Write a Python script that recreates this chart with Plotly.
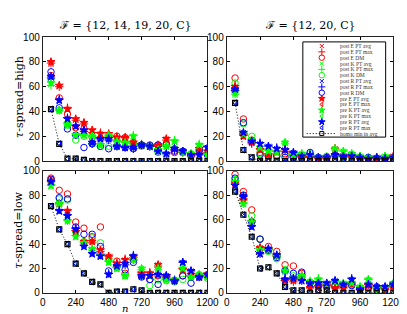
import plotly.graph_objects as go

# ---------------- data ----------------
n_values = [60, 120, 180, 240, 300, 360, 420, 480, 540, 600,
            660, 720, 780, 840, 900, 960, 1020, 1080, 1140, 1200]
x_ticks = [0, 240, 480, 720, 960, 1200]
y_ticks = [0, 20, 40, 60, 80, 100]
col_titles = ["ℱ = {12, 14, 19, 20, C}", "ℱ = {12, 20, C}"]
row_titles = ["<i>τ</i>-spread=high", "<i>τ</i>-spread=low"]
x_title = "<i>n</i>"
series_names = ["post E PT avg", "post E PT max", "post E DM",
                "post K PT avg", "post K PT max", "post K DM",
                "post R PT avg", "post R PT max", "post R DM",
                "pre E PT avg", "pre E PT max",
                "pre K PT avg", "pre K PT max",
                "pre R PT avg", "pre R PT max",
                "homo min in avg"]

# panel: tau-spread=high, F={12,14,19,20,C}
hiA_post_E_PT_avg = [78, 60, 42, 33, 30, 24, 22, 21, 19, 19, 15, 13, 12, 12, 18, 10, 8, 5, 10, 8]
hiA_post_E_PT_max = [79, 60, 43, 33, 30, 23, 23, 21, 20, 19, 14, 13, 12, 12, 17, 9, 7, 4, 11, 7]
hiA_post_E_DM     = [69, 51, 38, 27, 26, 19, 18, 18, 20, 19, 15, 13, 12, 13, 13, 7, 7, 4, 8, 7]
hiA_post_K_PT_avg = [62, 40, 30, 20, 21, 20, 13, 21, 16, 14, 20, 13, 12, 10, 12, 16, 7, 6, 13, 5]
hiA_post_K_PT_max = [61, 41, 31, 21, 21, 20, 14, 20, 16, 15, 21, 14, 12, 10, 12, 17, 7, 6, 14, 6]
hiA_post_K_DM     = [66, 41, 29, 17, 20, 14, 12, 12, 16, 15, 14, 12, 12, 7, 5, 10, 7, 6, 10, 7]
hiA_post_R_PT_avg = [68, 49, 34, 28, 24, 15, 18, 18, 12, 11, 11, 13, 12, 8, 6, 10, 8, 5, 5, 11]
hiA_post_R_PT_max = [67, 50, 35, 29, 24, 14, 18, 17, 12, 11, 10, 13, 12, 8, 6, 9, 8, 5, 5, 12]
hiA_post_R_DM     = [72, 43, 26, 21, 11, 14, 12, 10, 12, 11, 10, 13, 13, 13, 14, 8, 8, 5, 9, 5]
hiA_pre_E_PT_avg  = [80, 61, 42, 34, 31, 25, 22, 22, 19, 19, 15, 13, 12, 13, 18, 10, 8, 5, 10, 8]
hiA_pre_E_PT_max  = [42, 14, 2, 2, 1, 0, 0, 0, 0, 0, 0, 0, 0, 0, 0, 0, 0, 0, 0, 0]
hiA_pre_K_PT_avg  = [63, 41, 29, 21, 21, 20, 13, 21, 16, 15, 20, 13, 12, 9, 12, 16, 7, 6, 13, 5]
hiA_pre_K_PT_max  = [42, 14, 2, 2, 1, 0, 0, 0, 0, 0, 0, 0, 0, 0, 0, 0, 0, 0, 0, 0]
hiA_pre_R_PT_avg  = [68, 49, 34, 28, 25, 15, 18, 18, 12, 11, 11, 13, 12, 8, 6, 10, 8, 5, 5, 11]
hiA_pre_R_PT_max  = [42, 14, 2, 2, 1, 0, 0, 0, 0, 0, 0, 0, 0, 0, 0, 0, 0, 0, 0, 0]
hiA_homo_min_avg  = [42, 14, 2, 2, 1, 0, 0, 0, 0, 0, 0, 0, 0, 0, 0, 0, 0, 0, 0, 0]

# panel: tau-spread=high, F={12,20,C}
hiB_post_E_PT_avg = [60, 20, 15, 9, 4, 7, 9, 4, 3, 3, 2, 2, 10, 4, 3, 2, 2, 2, 2, 4]
hiB_post_E_PT_max = [61, 21, 14, 10, 5, 8, 8, 4, 3, 3, 2, 2, 10, 4, 3, 2, 2, 2, 2, 4]
hiB_post_E_DM     = [67, 34, 17, 7, 4, 5, 6, 3, 3, 4, 2, 3, 5, 3, 4, 2, 2, 2, 2, 3]
hiB_post_K_PT_avg = [53, 21, 17, 10, 8, 7, 15, 5, 6, 4, 3, 3, 10, 8, 6, 4, 3, 3, 4, 3]
hiB_post_K_PT_max = [54, 22, 16, 10, 9, 8, 14, 5, 6, 4, 3, 3, 9, 8, 6, 4, 3, 3, 4, 3]
hiB_post_K_DM     = [63, 30, 20, 6, 5, 4, 5, 4, 5, 6, 3, 4, 4, 3, 4, 3, 3, 2, 3, 2]
hiB_post_R_PT_avg = [58, 23, 16, 14, 12, 10, 9, 7, 4, 5, 3, 3, 5, 4, 4, 3, 2, 3, 2, 3]
hiB_post_R_PT_max = [57, 22, 15, 15, 12, 11, 10, 7, 4, 5, 3, 3, 6, 4, 4, 3, 2, 3, 2, 3]
hiB_post_R_DM     = [58, 31, 16, 5, 4, 4, 3, 3, 3, 7, 3, 3, 5, 4, 5, 3, 3, 2, 2, 2]
hiB_pre_E_PT_avg  = [60, 20, 15, 9, 5, 7, 9, 4, 3, 3, 2, 2, 10, 4, 3, 2, 2, 2, 2, 4]
hiB_pre_E_PT_max  = [47, 9, 3, 0, 0, 0, 0, 0, 0, 0, 0, 0, 0, 0, 0, 0, 0, 0, 0, 0]
hiB_pre_K_PT_avg  = [55, 22, 17, 11, 8, 7, 15, 5, 6, 4, 3, 3, 10, 8, 6, 4, 3, 3, 4, 3]
hiB_pre_K_PT_max  = [47, 9, 3, 0, 0, 0, 0, 0, 0, 0, 0, 0, 0, 0, 0, 0, 0, 0, 0, 0]
hiB_pre_R_PT_avg  = [58, 23, 16, 14, 12, 10, 9, 7, 4, 5, 3, 3, 5, 4, 4, 3, 2, 3, 2, 3]
hiB_pre_R_PT_max  = [47, 9, 3, 0, 0, 0, 0, 0, 0, 0, 0, 0, 0, 0, 0, 0, 0, 0, 0, 0]
hiB_homo_min_avg  = [47, 9, 3, 0, 0, 0, 0, 0, 0, 0, 0, 0, 0, 0, 0, 0, 0, 0, 0, 0]

# panel: tau-spread=low, F={12,14,19,20,C}
loA_post_E_PT_avg = [92, 73, 67, 50, 42, 42, 35, 30, 24, 27, 28, 16, 16, 23, 14, 10, 19, 15, 13, 15]
loA_post_E_PT_max = [92, 73, 68, 51, 41, 41, 34, 30, 25, 28, 27, 17, 17, 22, 13, 10, 20, 16, 14, 16]
loA_post_E_DM     = [94, 84, 81, 58, 53, 46, 54, 28, 26, 16, 29, 16, 11, 14, 13, 10, 14, 14, 14, 15]
loA_post_K_PT_avg = [87, 73, 60, 46, 41, 36, 31, 25, 20, 14, 28, 20, 14, 20, 11, 11, 20, 13, 15, 13]
loA_post_K_PT_max = [88, 72, 59, 47, 42, 35, 31, 26, 21, 15, 27, 19, 15, 19, 11, 10, 19, 13, 15, 13]
loA_post_K_DM     = [92, 77, 76, 50, 42, 45, 41, 28, 21, 14, 27, 14, 6, 11, 10, 9, 11, 13, 15, 12]
loA_post_R_PT_avg = [91, 67, 64, 52, 39, 33, 30, 15, 22, 24, 30, 14, 14, 15, 14, 10, 25, 18, 13, 15]
loA_post_R_PT_max = [91, 68, 64, 53, 39, 33, 31, 16, 21, 23, 31, 14, 15, 15, 14, 10, 25, 18, 13, 14]
loA_post_R_DM     = [93, 78, 77, 54, 48, 48, 38, 18, 22, 19, 25, 13, 11, 7, 12, 10, 14, 8, 13, 14]
loA_pre_E_PT_avg  = [92, 73, 67, 50, 42, 42, 35, 30, 24, 27, 28, 16, 16, 23, 14, 10, 19, 15, 13, 15]
loA_pre_E_PT_max  = [71, 52, 40, 24, 16, 9, 7, 0, 1, 1, 3, 2, 0, 0, 0, 0, 0, 0, 0, 0]
loA_pre_K_PT_avg  = [88, 73, 59, 46, 41, 36, 31, 25, 20, 14, 28, 20, 14, 20, 11, 11, 20, 13, 15, 13]
loA_pre_K_PT_max  = [71, 52, 40, 24, 16, 9, 7, 0, 1, 1, 3, 2, 0, 0, 0, 0, 0, 0, 0, 0]
loA_pre_R_PT_avg  = [91, 67, 63, 52, 38, 32, 30, 15, 22, 24, 30, 14, 14, 15, 14, 10, 25, 18, 13, 15]
loA_pre_R_PT_max  = [71, 52, 40, 24, 16, 9, 7, 0, 1, 1, 3, 2, 0, 0, 0, 0, 0, 0, 0, 0]
loA_homo_min_avg  = [71, 52, 40, 24, 16, 9, 7, 0, 1, 1, 3, 2, 0, 0, 0, 0, 0, 0, 0, 0]

# panel: tau-spread=low, F={12,20,C}
loB_post_E_PT_avg = [90, 76, 58, 37, 35, 30, 10, 10, 14, 4, 5, 6, 4, 4, 7, 3, 6, 4, 3, 5]
loB_post_E_PT_max = [90, 76, 59, 37, 36, 30, 10, 9, 13, 4, 5, 6, 4, 4, 7, 3, 7, 4, 3, 5]
loB_post_E_DM     = [97, 83, 68, 44, 38, 34, 23, 22, 16, 8, 6, 5, 5, 6, 7, 3, 5, 4, 3, 5]
loB_post_K_PT_avg = [91, 73, 58, 35, 35, 30, 18, 12, 14, 9, 11, 7, 9, 8, 8, 5, 11, 4, 4, 8]
loB_post_K_PT_max = [92, 73, 58, 35, 35, 30, 17, 12, 14, 10, 12, 7, 9, 8, 8, 5, 11, 4, 4, 8]
loB_post_K_DM     = [93, 80, 63, 44, 34, 28, 19, 14, 12, 9, 7, 6, 7, 6, 7, 4, 5, 3, 4, 6]
loB_post_R_PT_avg = [88, 79, 54, 32, 36, 31, 11, 12, 10, 8, 8, 8, 10, 7, 11, 3, 7, 5, 5, 7]
loB_post_R_PT_max = [89, 79, 55, 32, 36, 31, 12, 12, 10, 8, 9, 8, 10, 7, 12, 3, 7, 5, 5, 7]
loB_post_R_DM     = [94, 80, 58, 44, 35, 29, 18, 16, 17, 8, 6, 7, 6, 6, 6, 3, 4, 5, 4, 7]
loB_pre_E_PT_avg  = [90, 76, 58, 37, 35, 30, 10, 10, 14, 4, 5, 6, 4, 4, 7, 3, 6, 4, 3, 5]
loB_pre_E_PT_max  = [83, 64, 46, 20, 21, 16, 5, 2, 2, 0, 2, 2, 0, 0, 0, 0, 0, 0, 0, 0]
loB_pre_K_PT_avg  = [91, 73, 58, 35, 35, 30, 18, 12, 14, 9, 11, 7, 9, 8, 8, 5, 11, 4, 4, 8]
loB_pre_K_PT_max  = [83, 64, 46, 20, 21, 16, 5, 2, 2, 0, 2, 2, 0, 0, 0, 0, 0, 0, 0, 0]
loB_pre_R_PT_avg  = [88, 79, 54, 32, 36, 31, 11, 12, 10, 8, 8, 8, 10, 7, 11, 3, 7, 5, 5, 7]
loB_pre_R_PT_max  = [83, 64, 46, 20, 21, 16, 5, 2, 2, 0, 2, 2, 0, 0, 0, 0, 0, 0, 0, 0]
loB_homo_min_avg  = [83, 64, 46, 20, 21, 16, 5, 2, 2, 0, 2, 2, 0, 0, 0, 0, 0, 0, 0, 0]

panel_data = {
    "hiA": [hiA_post_E_PT_avg, hiA_post_E_PT_max, hiA_post_E_DM,
            hiA_post_K_PT_avg, hiA_post_K_PT_max, hiA_post_K_DM,
            hiA_post_R_PT_avg, hiA_post_R_PT_max, hiA_post_R_DM,
            hiA_pre_E_PT_avg, hiA_pre_E_PT_max, hiA_pre_K_PT_avg, hiA_pre_K_PT_max,
            hiA_pre_R_PT_avg, hiA_pre_R_PT_max, hiA_homo_min_avg],
    "hiB": [hiB_post_E_PT_avg, hiB_post_E_PT_max, hiB_post_E_DM,
            hiB_post_K_PT_avg, hiB_post_K_PT_max, hiB_post_K_DM,
            hiB_post_R_PT_avg, hiB_post_R_PT_max, hiB_post_R_DM,
            hiB_pre_E_PT_avg, hiB_pre_E_PT_max, hiB_pre_K_PT_avg, hiB_pre_K_PT_max,
            hiB_pre_R_PT_avg, hiB_pre_R_PT_max, hiB_homo_min_avg],
    "loA": [loA_post_E_PT_avg, loA_post_E_PT_max, loA_post_E_DM,
            loA_post_K_PT_avg, loA_post_K_PT_max, loA_post_K_DM,
            loA_post_R_PT_avg, loA_post_R_PT_max, loA_post_R_DM,
            loA_pre_E_PT_avg, loA_pre_E_PT_max, loA_pre_K_PT_avg, loA_pre_K_PT_max,
            loA_pre_R_PT_avg, loA_pre_R_PT_max, loA_homo_min_avg],
    "loB": [loB_post_E_PT_avg, loB_post_E_PT_max, loB_post_E_DM,
            loB_post_K_PT_avg, loB_post_K_PT_max, loB_post_K_DM,
            loB_post_R_PT_avg, loB_post_R_PT_max, loB_post_R_DM,
            loB_pre_E_PT_avg, loB_pre_E_PT_max, loB_pre_K_PT_avg, loB_pre_K_PT_max,
            loB_pre_R_PT_avg, loB_pre_R_PT_max, loB_homo_min_avg],
}

# ---------------- styles ----------------
RED, GREEN, BLUE, BLACK = "#ff0000", "#00ff00", "#0000ff", "#000000"
styles = [
    (RED, "x-thin-open", 5), (RED, "cross-thin-open", 6), (RED, "circle-open", 6.5),
    (GREEN, "x-thin-open", 5), (GREEN, "cross-thin-open", 6), (GREEN, "circle-open", 6.5),
    (BLUE, "x-thin-open", 5), (BLUE, "cross-thin-open", 6), (BLUE, "circle-open", 6.5),
    (RED, "star", 6), (RED, "triangle-left-open", 5),
    (GREEN, "star", 6), (GREEN, "triangle-left-open", 5),
    (BLUE, "star", 6), (BLUE, "triangle-left-open", 5),
    (BLACK, "square-open", 5),
]
DOTTED = "1px,2px"

W, H = 407, 314
def xd(a, b):
    return [a / W, b / W]
def yd(top, bottom):
    return [(H - bottom) / H, (H - top) / H]

panels = [  # key, axis suffix, x-domain px, y-domain px, show x labels
    ("hiA", "", (33, 204), (24, 153), False),
    ("hiB", "2", (224, 397), (24, 153), False),
    ("loA", "3", (33, 204), (163, 290), True),
    ("loB", "4", (224, 397), (163, 290), True),
]

fig = go.Figure()
TICKFONT = dict(family="Liberation Sans, Arial, sans-serif", size=10, color="black")
SERIF = "DejaVu Serif, Liberation Serif, serif"

for key, sfx, xpx, ypx, showx in panels:
    for vals, (color, sym, size), name in zip(panel_data[key], styles, series_names):
        is_homo = name == "homo min in avg"
        fig.add_trace(go.Scatter(
            x=n_values, y=vals, name=name, showlegend=False,
            mode="lines+markers" if is_homo else "markers",
            line=dict(color=BLACK, width=1, dash=DOTTED) if is_homo else None,
            marker=dict(symbol=sym, size=size, color=color,
                        line=dict(color=color, width=1.2 if is_homo else 1)),
            xaxis="x" + sfx, yaxis="y" + sfx,
        ))
    fig.layout["xaxis" + sfx] = dict(
        domain=xd(*xpx), range=[0, 1200], tickvals=x_ticks, showticklabels=showx,
        ticks="inside", ticklen=3, tickwidth=0.8, tickcolor="black",
        showline=True, linecolor="#222", linewidth=1, mirror="ticks",
        showgrid=False, zeroline=False, tickfont=TICKFONT, anchor="y" + sfx,
    )
    fig.layout["yaxis" + sfx] = dict(
        domain=yd(*ypx), range=[0, 100], tickvals=y_ticks,
        ticks="inside", ticklen=3, tickwidth=0.8, tickcolor="black",
        showline=True, linecolor="#222", linewidth=1, mirror="ticks",
        showgrid=False, zeroline=False, tickfont=TICKFONT, anchor="x" + sfx,
    )

# ---------------- legend (drawn on its own hidden axis) ----------------
LEG_X = (303, 389)
LEG_Y = (29, 128)
for i, (name, (color, sym, size)) in enumerate(zip(series_names, styles)):
    if name == "homo min in avg":
        fig.add_trace(go.Scatter(x=[0.047, 0.395], y=[i, i], mode="lines",
                                 line=dict(color=BLACK, width=1, dash=DOTTED),
                                 showlegend=False, xaxis="x5", yaxis="y5", hoverinfo="skip"))
    fig.add_trace(go.Scatter(x=[0.229], y=[i], mode="markers", showlegend=False,
                             marker=dict(symbol=sym, size=max(size - 1, 4), color=color,
                                         line=dict(color=color, width=1)),
                             xaxis="x5", yaxis="y5", hoverinfo="skip"))
    fig.add_annotation(x=0.43, y=i, xref="x5", yref="y5", text=name, showarrow=False,
                       xanchor="left", yanchor="middle",
                       font=dict(family="Liberation Serif, serif", size=5.5, color="#333"))

fig.layout["xaxis5"] = dict(domain=xd(*LEG_X), range=[0, 1], visible=False, anchor="y5")
fig.layout["yaxis5"] = dict(domain=yd(*LEG_Y), range=[15.61, -0.71], visible=False, anchor="x5")
fig.add_shape(type="rect", xref="paper", yref="paper",
              x0=LEG_X[0] / W, x1=LEG_X[1] / W,
              y0=(H - LEG_Y[1]) / H, y1=(H - LEG_Y[0]) / H,
              line=dict(color="black", width=1), fillcolor="white", layer="below")

# ---------------- titles ----------------
for title, xpx in zip(col_titles, [(33, 204), (224, 397)]):
    fig.add_annotation(x=(xpx[0] + xpx[1]) / 2 / W, y=(H - 12) / H, xref="paper", yref="paper",
                       text=title, showarrow=False, xanchor="center", yanchor="middle",
                       font=dict(family=SERIF, size=11, color="black"))
for label, ypx in zip(row_titles, [(24, 153), (163, 290)]):
    fig.add_annotation(x=8 / W, y=(H - (ypx[0] + ypx[1]) / 2 + 2) / H, xref="paper", yref="paper",
                       text=label, showarrow=False, textangle=-90,
                       xanchor="center", yanchor="middle",
                       font=dict(family=SERIF, size=11, color="black"))
for xpx in [(33, 204), (224, 397)]:
    fig.add_annotation(x=(xpx[0] + xpx[1]) / 2 / W, y=(H - 306) / H, xref="paper", yref="paper",
                       text=x_title, showarrow=False, xanchor="center", yanchor="middle",
                       font=dict(family=SERIF, size=10, color="black"))

fig.update_layout(width=W, height=H, margin=dict(l=0, r=0, t=0, b=0),
                  paper_bgcolor="white", plot_bgcolor="rgba(0,0,0,0)",
                  showlegend=False)

fig.write_html("out.html")
